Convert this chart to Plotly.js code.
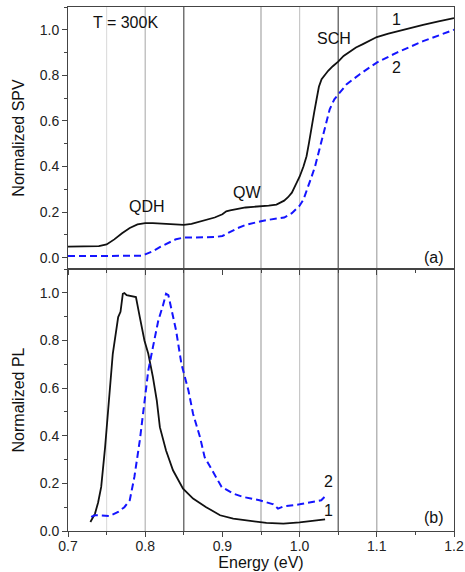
<!DOCTYPE html>
<html>
<head>
<meta charset="utf-8">
<script src="https://cdn.plot.ly/plotly-3.0.1.min.js"></script>
<style>html,body{margin:0;padding:0;background:#fff;}#chart{width:465px;height:572px;}</style>
</head>
<body>
<div id="chart"></div>
<script>
// ---- SPV panel (a) ----
const spv1E = [0.70,0.72,0.74,0.75,0.76,0.77,0.78,0.79,0.80,0.81,0.82,0.83,0.84,0.85,0.86,0.87,0.88,0.89,0.90,0.905,0.91,0.92,0.93,0.94,0.95,0.96,0.97,0.975,0.98,0.985,0.99,0.995,1.0,1.005,1.009,1.012,1.0155,1.019,1.022,1.025,1.0285,1.033,1.037,1.043,1.05,1.057,1.065,1.073,1.082,1.09,1.10,1.115,1.13,1.145,1.16,1.18,1.2];
const spv1V = [0.048,0.048,0.050,0.058,0.080,0.107,0.130,0.146,0.151,0.151,0.150,0.149,0.146,0.144,0.148,0.158,0.166,0.176,0.190,0.203,0.207,0.215,0.220,0.223,0.225,0.228,0.233,0.240,0.250,0.265,0.285,0.320,0.355,0.400,0.445,0.500,0.577,0.640,0.695,0.750,0.783,0.805,0.820,0.840,0.860,0.885,0.905,0.922,0.937,0.952,0.968,0.983,0.996,1.010,1.022,1.037,1.051];
const spv2E = [0.70,0.72,0.74,0.75,0.76,0.78,0.795,0.80,0.81,0.82,0.83,0.84,0.85,0.87,0.89,0.90,0.91,0.92,0.93,0.94,0.95,0.96,0.97,0.98,0.99,1.0,1.005,1.01,1.015,1.02,1.026,1.033,1.039,1.045,1.05,1.061,1.078,1.10,1.126,1.16,1.2];
const spv2V = [0.007,0.007,0.008,0.009,0.007,0.006,0.008,0.014,0.028,0.048,0.066,0.081,0.088,0.089,0.090,0.095,0.112,0.130,0.143,0.153,0.160,0.166,0.171,0.176,0.195,0.228,0.255,0.300,0.350,0.400,0.480,0.563,0.651,0.695,0.717,0.761,0.805,0.856,0.900,0.950,1.000];

// ---- PL panel (b) ----
const pl1E = [0.729,0.735,0.739,0.743,0.748,0.752,0.758,0.765,0.768,0.771,0.773,0.776,0.782,0.788,0.793,0.799,0.804,0.810,0.815,0.819,0.827,0.836,0.849,0.862,0.879,0.897,0.914,0.936,0.957,0.979,1.0,1.022,1.033];
const pl1V = [0.038,0.073,0.120,0.185,0.350,0.520,0.744,0.898,0.920,0.996,0.999,0.990,0.986,0.982,0.898,0.800,0.744,0.646,0.548,0.436,0.338,0.255,0.178,0.136,0.100,0.066,0.052,0.042,0.034,0.031,0.036,0.045,0.049];
const pl2E = [0.730,0.735,0.741,0.754,0.765,0.773,0.780,0.786,0.793,0.798,0.804,0.810,0.817,0.823,0.827,0.830,0.834,0.840,0.847,0.856,0.862,0.871,0.877,0.888,0.899,0.914,0.927,0.948,0.966,0.972,0.979,1.0,1.018,1.028,1.033];
const pl2V = [0.059,0.066,0.066,0.063,0.080,0.100,0.129,0.227,0.380,0.520,0.674,0.772,0.884,0.947,0.996,0.990,0.933,0.842,0.700,0.590,0.492,0.394,0.310,0.248,0.185,0.157,0.143,0.129,0.112,0.094,0.103,0.112,0.122,0.129,0.145];

// vertical reference lines
const refLinesE = [0.75,0.80,0.85,0.95,1.00,1.05,1.10];
const refLineShade = ['#dedede','#b4b4b4','#505050','#a6a6a6','#c8c8c8','#505050','#a6a6a6'];

const FONT = 'Liberation Sans, Arial, sans-serif';
const black = {color:'#111', width:1.8};
const blue = {color:'#1414ff', width:2, dash:'7px,4px'};

const traces = [
  {x:spv1E, y:spv1V, xaxis:'x2', yaxis:'y2', mode:'lines', line:black, hoverinfo:'skip'},
  {x:spv2E, y:spv2V, xaxis:'x2', yaxis:'y2', mode:'lines', line:blue, hoverinfo:'skip'},
  {x:pl1E, y:pl1V, xaxis:'x', yaxis:'y', mode:'lines', line:black, hoverinfo:'skip'},
  {x:pl2E, y:pl2V, xaxis:'x', yaxis:'y', mode:'lines', line:blue, hoverinfo:'skip'}
];

const axCommon = {
  showgrid:false, zeroline:false, showline:true, linecolor:'#444', linewidth:1,
  mirror:true, ticks:'outside', ticklen:5, tickwidth:1, tickcolor:'#444',
  tickfont:{family:FONT, size:14, color:'#222'}
};

const shapes = refLinesE.map((e,i)=>({
  type:'line', xref:'x', yref:'paper', x0:e, x1:e, y0:0, y1:1,
  line:{color:refLineShade[i], width:1.2}, layer:'below'
}));

function ann(text, x, y, xr, yr, size){
  return {text:text, x:x, y:y, xref:xr, yref:yr, showarrow:false,
    font:{family:FONT, size:size||16, color:'#111'}, xanchor:'center', yanchor:'middle'};
}

const layout = {
  width:465, height:572,
  margin:{l:68, r:11, t:7, b:41},
  paper_bgcolor:'#fff', plot_bgcolor:'#fff',
  showlegend:false,
  font:{family:FONT, color:'#111'},
  xaxis: Object.assign({}, axCommon, {
    domain:[0,1], anchor:'y', range:[0.7,1.2], dtick:0.1, tick0:0.7, tickformat:'.1f',
    ticklabelstandoff:-3,
    minor:{ticks:'outside', dtick:0.05, ticklen:3, tickcolor:'#444'},
    title:{text:'Energy (eV)', font:{family:FONT, size:16, color:'#111'}, standoff:1}
  }),
  yaxis: Object.assign({}, axCommon, {
    domain:[0,0.5], anchor:'x', range:[0,1.1], dtick:0.2, tick0:0, tickformat:'.1f',
    minor:{ticks:'outside', dtick:0.1, ticklen:3, tickcolor:'#444'},
    title:{text:'Normalized PL', font:{family:FONT, size:16, color:'#111'}, standoff:11}
  }),
  xaxis2: Object.assign({}, axCommon, {
    domain:[0,1], anchor:'y2', matches:'x', range:[0.7,1.2], dtick:0.1, tick0:0.7,
    showticklabels:false,
    minor:{ticks:'outside', dtick:0.05, ticklen:3, tickcolor:'#444'}
  }),
  yaxis2: Object.assign({}, axCommon, {
    domain:[0.5,1], anchor:'x2', range:[-0.05,1.1], dtick:0.2, tick0:0, tickformat:'.1f',
    minor:{ticks:'outside', dtick:0.1, ticklen:3, tickcolor:'#444'},
    title:{text:'Normalized SPV', font:{family:FONT, size:16, color:'#111'}, standoff:11}
  }),
  shapes:shapes,
  annotations:[
    ann('T = 300K', 0.775, 1.03, 'x2', 'y2'),
    ann('1', 1.125, 1.047, 'x2', 'y2'),
    ann('2', 1.125, 0.836, 'x2', 'y2'),
    ann('SCH', 1.044, 0.963, 'x2', 'y2'),
    ann('QW', 0.932, 0.285, 'x2', 'y2'),
    ann('QDH', 0.802, 0.223, 'x2', 'y2'),
    ann('(a)', 1.174, 0.0, 'x2', 'y2'),
    ann('2', 1.037, 0.206, 'x', 'y'),
    ann('1', 1.037, 0.087, 'x', 'y'),
    ann('(b)', 1.174, 0.057, 'x', 'y')
  ]
};

Plotly.newPlot('chart', traces, layout, {staticPlot:true, displayModeBar:false});
</script>
</body>
</html>
